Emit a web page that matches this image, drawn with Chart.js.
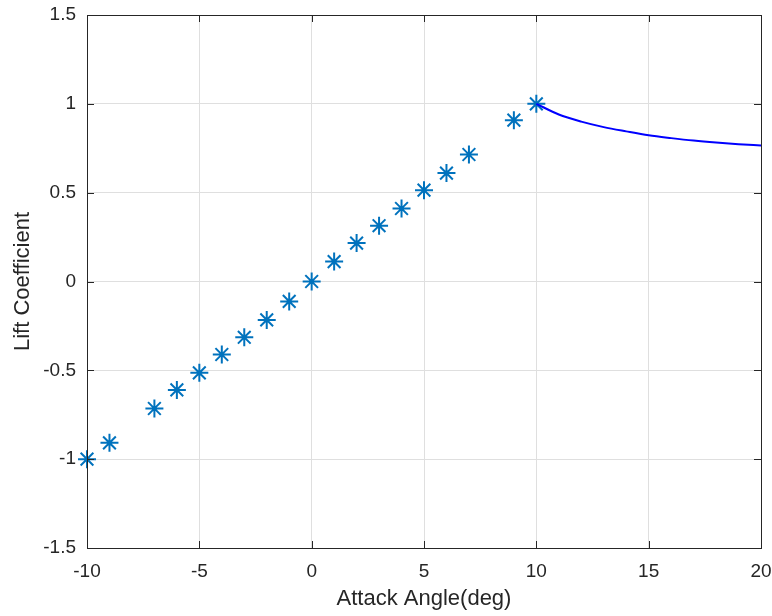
<!DOCTYPE html>
<html>
<head>
<meta charset="utf-8">
<script src="https://cdn.jsdelivr.net/npm/chart.js@4"></script>
<style>
  body { margin: 0; background: #fff; }
  canvas { display: block; }
</style>
</head>
<body>
<canvas id="chart" width="772" height="616"></canvas>
<script>
// measured lift coefficient (markers)
const anglePts = [-10, -9, -7, -6, -5, -4, -3, -2, -1, 0, 1, 2, 3, 4, 5, 6, 7, 9, 10];
const liftPts = [-1.0, -0.908, -0.715, -0.61, -0.514, -0.411, -0.314, -0.216, -0.112, 0,
  0.112, 0.216, 0.314, 0.411, 0.514, 0.61, 0.715, 0.908, 1.0];

// post-stall curve
const stallAngle = [10, 11, 12, 13, 14, 15, 16, 17, 18, 19, 20];
const stallLift = [1.0, 0.94, 0.9, 0.869, 0.845, 0.823, 0.807, 0.793, 0.782, 0.773, 0.766];

const xTicks = [-10, -5, 0, 5, 10, 15, 20];
const yTicks = [-1.5, -1, -0.5, 0, 0.5, 1, 1.5];

const axisColor = '#262626';
const fontFamily = '"Liberation Sans", Arial, Helvetica, sans-serif';

// box around the plot + inward tick marks on all four sides
const boxPlugin = {
  id: 'matlabBox',
  afterDraw(chart) {
    const { ctx, chartArea: a, scales } = chart;
    const len = 7;
    ctx.save();
    ctx.strokeStyle = axisColor;
    ctx.lineWidth = 1;
    ctx.beginPath();
    xTicks.forEach((v) => {
      const px = Math.round(scales.x.getPixelForValue(v)) + 0.5;
      ctx.moveTo(px, a.bottom); ctx.lineTo(px, a.bottom - len);
      ctx.moveTo(px, a.top); ctx.lineTo(px, a.top + len);
    });
    yTicks.forEach((v) => {
      const py = Math.round(scales.y.getPixelForValue(v)) + 0.5;
      ctx.moveTo(a.left, py); ctx.lineTo(a.left + len, py);
      ctx.moveTo(a.right, py); ctx.lineTo(a.right - len, py);
    });
    ctx.stroke();
    ctx.strokeRect(Math.round(a.left) + 0.5, Math.round(a.top) + 0.5,
      Math.round(a.right - a.left), Math.round(a.bottom - a.top));
    ctx.restore();
  }
};

new Chart(document.getElementById('chart'), {
  type: 'scatter',
  data: {
    datasets: [
      {
        label: 'stall',
        data: stallAngle.map((x, i) => ({ x: x, y: stallLift[i] })),
        showLine: true,
        borderColor: '#0000ff',
        borderWidth: 2,
        pointRadius: 0,
        cubicInterpolationMode: 'monotone',
        fill: false
      },
      {
        label: 'Cl',
        data: anglePts.map((x, i) => ({ x: x, y: liftPts[i] })),
        pointStyle: 'star',
        pointRadius: 9,
        pointBorderWidth: 2,
        borderColor: '#0072bd',
        backgroundColor: '#0072bd',
        showLine: false,
        clip: false
      }
    ]
  },
  options: {
    responsive: false,
    animation: false,
    layout: { padding: { top: 15, right: 11, left: 0, bottom: 0 } },
    plugins: {
      legend: { display: false },
      tooltip: { enabled: false }
    },
    scales: {
      x: {
        type: 'linear',
        min: -10,
        max: 20,
        afterFit: (s) => { s.height = 68; s.paddingLeft = 0; s.paddingRight = 0; },
        afterBuildTicks: (s) => { s.ticks = xTicks.map((v) => ({ value: v })); },
        grid: { color: '#dfdfdf', lineWidth: 1, drawTicks: false },
        border: { display: false },
        ticks: {
          padding: 12,
          color: axisColor,
          font: { family: fontFamily, size: 19 },
          maxRotation: 0,
          callback: (v) => String(v)
        },
        title: {
          display: true,
          text: 'Attack Angle(deg)',
          color: axisColor,
          font: { family: fontFamily, size: 22 },
          padding: { top: 0, bottom: 4 }
        }
      },
      y: {
        type: 'linear',
        min: -1.5,
        max: 1.5,
        afterFit: (s) => { s.width = 87; s.paddingTop = 0; s.paddingBottom = 0; },
        afterBuildTicks: (s) => { s.ticks = yTicks.map((v) => ({ value: v })); },
        grid: { color: '#dfdfdf', lineWidth: 1, drawTicks: false },
        border: { display: false },
        ticks: {
          padding: 11,
          color: axisColor,
          font: { family: fontFamily, size: 19 },
          callback: (v) => String(v)
        },
        title: {
          display: true,
          text: 'Lift Coefficient',
          color: axisColor,
          font: { family: fontFamily, size: 22 },
          padding: { top: 10, bottom: 0 }
        }
      }
    }
  },
  plugins: [boxPlugin]
});
</script>
</body>
</html>
